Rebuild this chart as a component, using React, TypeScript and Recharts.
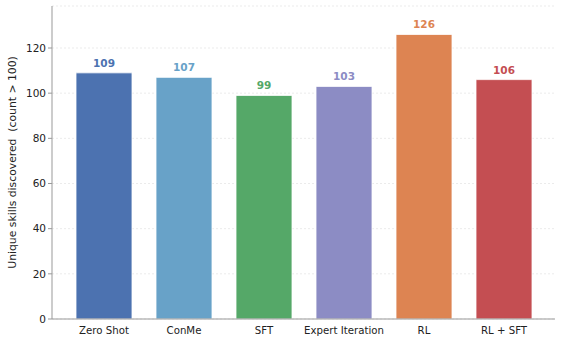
import React from 'react';
import { BarChart, Bar, XAxis, YAxis, CartesianGrid, LabelList, Cell } from 'recharts';

const methods = ['Zero Shot', 'ConMe', 'SFT', 'Expert Iteration', 'RL', 'RL + SFT'];
const skillCounts = [109, 107, 99, 103, 126, 106];
const barColors = ['#4C72B0', '#68A2C8', '#55A868', '#8C8CC4', '#DD8452', '#C44E52'];
const yTicks = [0, 20, 40, 60, 80, 100, 120];

const data = methods.map((name, i) => ({ name, count: skillCounts[i] }));

const FONT = '"DejaVu Sans", sans-serif';

const ValueLabel = (props: any) => {
  const { x, y, width, value, index } = props;
  return (
    <text
      x={x + width / 2}
      y={y - 6}
      textAnchor="middle"
      fill={barColors[index]}
      fontSize={10.5}
      fontWeight="bold"
      fontFamily={FONT}
    >
      {value}
    </text>
  );
};

// rotated axis title, centred on the plot height
const YTitle = (props: any) => {
  const { viewBox } = props;
  const cx = 16;
  const cy = viewBox.y + viewBox.height / 2;
  return (
    <text
      x={cx}
      y={cy}
      transform={`rotate(-90 ${cx} ${cy})`}
      textAnchor="middle"
      fontSize={10.8}
      fill="#222"
      fontFamily={FONT}
      style={{ whiteSpace: 'pre' }}
    >
      {'Unique skills discovered  (count > 100)'}
    </text>
  );
};

export default function App() {
  return (
    <div style={{ position: 'fixed', left: 0, top: 0, width: 562, height: 342, background: '#fff' }}>
      <BarChart
        width={562}
        height={342}
        data={data}
        margin={{ top: 6, right: 7, bottom: 0, left: 0 }}
      >
        <CartesianGrid vertical={false} stroke="#ebebeb" strokeDasharray="2 2" />
        <XAxis
          dataKey="name"
          padding={{ left: 12, right: 11 }}
          tickLine={false}
          axisLine={{ stroke: '#999' }}
          height={23}
          tick={{ fontSize: 10.2, fill: '#222', fontFamily: FONT }}
          tickMargin={2}
          interval={0}
        />
        <YAxis
          domain={[0, 138.6]}
          ticks={yTicks}
          width={52}
          tickSize={4}
          tickMargin={2}
          tickLine={{ stroke: '#999' }}
          axisLine={{ stroke: '#999' }}
          tick={{ fontSize: 10.5, fill: '#222', fontFamily: FONT }}
          label={<YTitle />}
        />
        <Bar dataKey="count" barSize={56} isAnimationActive={false} stroke="#fff" strokeWidth={0.8}>
          {data.map((d, i) => (
            <Cell key={d.name} fill={barColors[i]} />
          ))}
          <LabelList dataKey="count" content={<ValueLabel />} />
        </Bar>
      </BarChart>
    </div>
  );
}
